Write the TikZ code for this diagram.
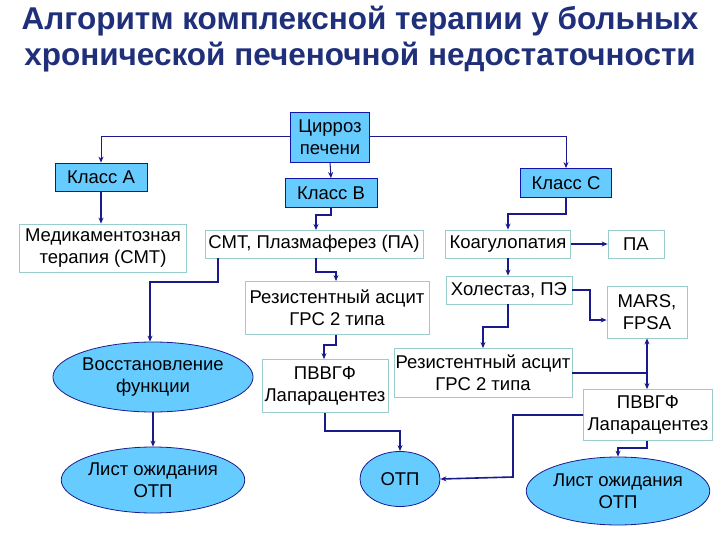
\documentclass[tikz,border=0pt]{standalone}
\usepackage{fontspec}
\setmainfont{Liberation Sans}
\usetikzlibrary{shapes.geometric,arrows.meta}
\definecolor{sky}{HTML}{66CCFF}
\definecolor{navy}{HTML}{1A1A8C}
\definecolor{tit}{HTML}{1F2F7A}
\definecolor{teal}{HTML}{99CCCC}
\begin{document}
\begin{tikzpicture}[x=1pt,y=-1pt,
  every node/.style={font=\fontsize{18.5}{22}\selectfont,align=center,inner sep=0pt},
  bb/.style={draw=navy!70!blue,fill=sky,line width=0.8pt,minimum width=#1},
  wb/.style={draw=teal,fill=white,line width=0.8pt},
  el/.style={ellipse,draw=navy,fill=sky,line width=0.8pt},
  ar/.style={draw=navy,line width=1.6pt,-{Stealth[length=6pt,width=5pt]}},
  tn/.style={draw=navy,line width=1pt,-{Stealth[length=6pt,width=5pt]}}]
\useasboundingbox (0,0) rectangle (720,540);
\node[font=\fontsize{31.5}{36}\selectfont\bfseries,text=tit] (t) at (360,39)
 {Алгоритм комплексной терапии у больных\\хронической печеночной недостаточности};
\node[bb=79pt,minimum height=50pt] (c) at (330,137) {Цирроз\\печени};
\node[bb=92pt,minimum height=28pt] (a) at (101,177) {Класс А};
\node[bb=92pt,minimum height=29pt] (b) at (331,193) {Класс В};
\node[bb=91pt,minimum height=29pt] (cc) at (566,183) {Класс С};
\node[wb,minimum width=167pt,minimum height=48pt] (m) at (103,248) {Медикаментозная\\терапия (СМТ)};
\node[wb,minimum width=218pt,minimum height=28pt] (s) at (314,244) {СМТ, Плазмаферез (ПА)};
\node[wb,minimum width=125pt,minimum height=28pt] (k) at (508,244) {Коагулопатия};
\node[wb,minimum width=56pt,minimum height=28pt] (pa) at (636,244) {ПА};
\node[wb,minimum width=126pt,minimum height=28pt] (h) at (509,290) {Холестаз, ПЭ};
\node[wb,minimum width=80pt,minimum height=52pt] (mars) at (647,312) {MARS,\\FPSA};
\node[wb,minimum width=184pt,minimum height=53pt] (rb) at (337,308) {Резистентный асцит\\ГРС 2 типа};
\node[el,minimum width=173pt,minimum height=70pt] (v) at (153,377) {Восстановление\\функции};
\node[el,minimum width=173pt,minimum height=66pt] (l1) at (153,480) {Лист ожидания\\ОТП};
\node[wb,minimum width=126pt,minimum height=53pt] (pb) at (325,386) {ПВВГФ\\Лапарацентез};
\node[wb,minimum width=178pt,minimum height=49pt] (rc) at (483,373) {Резистентный асцит\\ГРС 2 типа};
\node[el,minimum width=80pt,minimum height=55pt] (o) at (400,479) {ОТП};
\node[wb,minimum width=129pt,minimum height=51pt] (pc) at (648,415) {ПВВГФ\\Лапарацентез};
\node[el,minimum width=173pt,minimum height=68pt] (l2) at (618,491) {Лист ожидания\\ОТП};
% connectors
\draw[tn] (c.west) -| (a.north);
\draw[tn] (c.east) -| (cc.north);
\draw[tn] (c.south) -- (b.north);
\draw[ar] (a.south) -- (m.north -| a.south);
\draw[ar] (b.south) |- (316,215) -- (316,230);
\draw[ar] (cc.south) |- (508,214) -- (k.north);
\draw[ar] (k.east) -- (pa.west);
\draw[ar] (k.south) -- (h.north -| k.south);
\draw[ar] (h.east) -| (590,320) -- (mars.west |- 0,320);
\draw[ar] (218,258) |- (150,282) -- (v.north -| 150,0);
\draw[ar] (316,258) |- (336,272) -- (rb.north -| 336,0);
\draw[ar] (rb.south -| 336,0) |- (324,345) -- (pb.north -| 324,0);
\draw[ar] (v.south) -- (l1.north);
\draw[ar] (pb.south -| 325,0) |- (400,431) -- (o.north);
\draw[ar] (h.south -| 508,0) |- (483,327) -- (rc.north);
\draw[draw=navy,line width=1.6pt] (rc.east) -- (647,373);
\draw[draw=navy,line width=1.6pt,{Stealth[length=6pt,width=5pt]}-{Stealth[length=6pt,width=5pt]}] (mars.south -| 647,0) -- (pc.north -| 647,0);
\draw[ar] (pc.west |- 0,415) -| (513,477) -- (o.east);
\draw[ar] (pc.south -| 647,0) |- (618,448) -- (l2.north);
\end{tikzpicture}
\end{document}
